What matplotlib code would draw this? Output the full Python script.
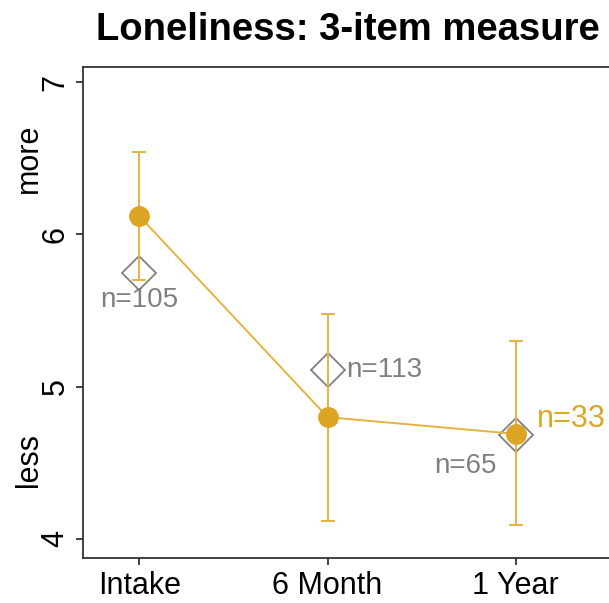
import matplotlib.pyplot as plt

plt.rcParams['font.family'] = ['Liberation Sans', 'DejaVu Sans']

labels = ["Intake", "6 Month", "1 Year"]
xpos = [1, 2, 3]

# orange series (mean with interval)
mean = [6.12, 4.80, 4.69]
upper = [6.54, 5.48, 5.30]
lower = [5.70, 4.12, 4.09]

# grey comparison points
grey = [5.75, 5.11, 4.68]
grey_n = ["n=105", "n=113", "n=65"]
orange_n = "n=33"

ORANGE = "#DDA524"
GREY = "#808080"

fig = plt.figure(figsize=(6.09, 6.03), dpi=100)
# panel runs past the right edge of the figure, as in the original
ax = fig.add_axes([83/609, 45/603, 540/609, 491/603])

# diamonds first so the orange sits on top
ax.plot(xpos, grey, linestyle="none", marker="D", markersize=17,
        markerfacecolor="none", markeredgecolor=GREY, markeredgewidth=1.3, zorder=2)

yerr = [[m - l for m, l in zip(mean, lower)], [u - m for m, u in zip(mean, upper)]]
ax.errorbar(xpos, mean, yerr=yerr, fmt="none", ecolor="#E6B341",
            elinewidth=1.4, capsize=5, capthick=1.4, zorder=3)
ax.plot(xpos, mean, color="#E6B341", linewidth=1.4, zorder=3)
ax.plot(xpos, mean, linestyle="none", marker="o", markersize=14,
        color=ORANGE, zorder=4)

# sample size labels
ax.text(xpos[0], grey[0] - 0.18, grey_n[0], color=GREY, fontsize=20,
        ha="center", va="center")
ax.text(xpos[1] + 0.1, grey[1], grey_n[1], color=GREY, fontsize=20,
        ha="left", va="center")
ax.text(xpos[2] - 0.1, grey[2] - 0.2, grey_n[2], color=GREY, fontsize=20,
        ha="right", va="center")
ax.text(xpos[2] + 0.115, mean[2] + 0.1, orange_n, color=ORANGE, fontsize=22,
        ha="left", va="center")

ax.text(-0.10, 6.5, "more", transform=ax.get_yaxis_transform(), rotation=90,
        fontsize=22, ha="center", va="center")
ax.text(-0.10, 4.52, "less", transform=ax.get_yaxis_transform(), rotation=90,
        fontsize=22, ha="center", va="center")

ax.set_xlim(0.70, 3.57)
ax.set_ylim(3.875, 7.10)
ax.set_xticks(xpos)
ax.set_xticklabels(labels, fontsize=22)
ax.set_yticks([4, 5, 6, 7])
ax.set_yticklabels(["4", "5", "6", "7"], fontsize=22, rotation=90, va="center")
ax.tick_params(length=5, width=1.3, color="#333333", pad=4)

for s in ax.spines.values():
    s.set_linewidth(1.3)
    s.set_color("#333333")
ax.spines["right"].set_visible(False)

fig.text(348/609, 1 - 30/603, "Loneliness: 3-item measure", fontsize=27.5,
         fontweight="bold", ha="center", va="center")

fig.savefig("out.png", dpi=100)
